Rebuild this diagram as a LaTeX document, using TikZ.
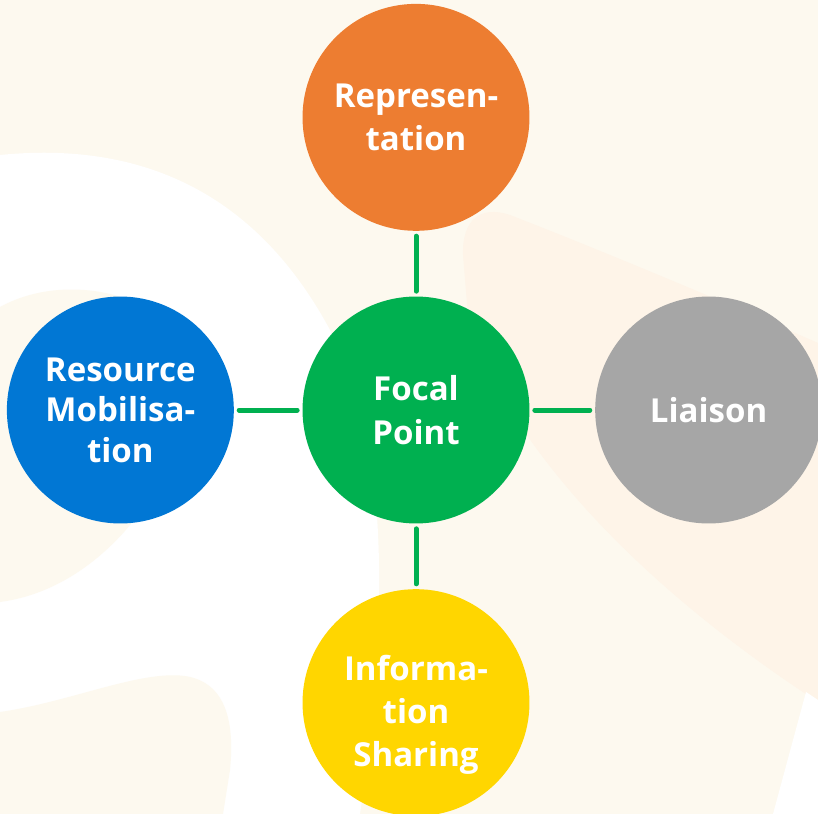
\documentclass[tikz,border=0pt]{standalone}
\usepackage{fontspec}
\setmainfont{Open Sans}
\usetikzlibrary{positioning}

\definecolor{bgcream}{RGB}{253,249,239}
\definecolor{bgpeach}{RGB}{254,244,232}
\definecolor{hubgreen}{RGB}{0,176,80}
\definecolor{reporange}{RGB}{237,125,49}
\definecolor{resblue}{RGB}{1,119,212}
\definecolor{liagray}{RGB}{166,166,166}
\definecolor{infoyellow}{RGB}{255,214,0}

\begin{document}
\begin{tikzpicture}[x=0.02cm,y=-0.02cm,
    bubble/.style={circle,minimum size=4.54cm,inner sep=0pt,text=white,align=center,
      font=\fontsize{18.8}{25}\selectfont\bfseries},
    link/.style={draw=hubgreen,line width=0.1cm,line cap=round,shorten <=0.1cm,shorten >=0.1cm}]
    \useasboundingbox (0,0) rectangle (818,814);
    \clip (0,0) rectangle (818,814);
    % background
    \fill[bgcream] (0,0) rectangle (818,814);
    \fill[white] (0,155) .. controls (150,140) and (260,200) .. (330,330) .. controls (370,410) and (380,500) .. (379,590) .. controls (378,700) and (365,780) .. (360,814) -- (0,814) -- cycle;
    \fill[bgcream] (0,307) .. controls (40,285) and (90,285) .. (130,300) -- (170,460) .. controls (150,510) and (90,590) .. (0,602) -- cycle;
    \fill[bgcream] (0,712) .. controls (70,702) and (140,670) .. (185,676) .. controls (225,682) and (235,720) .. (230,770) -- (223,814) -- (0,814) -- cycle;
    \fill[bgpeach] (463,255) .. controls (462,220) and (480,205) .. (510,215) .. controls (600,250) and (720,300) .. (818,343) -- (818,702) .. controls (700,625) and (590,530) .. (520,425) -- (470,340) -- cycle;
    \fill[white] (773,814) -- (806,692) -- (818,700) -- (818,814) -- cycle;
    % circles
    \node[bubble,fill=hubgreen] (focal) at (416,410) {Focal\\Point};
    \node[bubble,fill=reporange,above=1.3cm of focal] (rep) {Represen-\\tation};
    \node[bubble,fill=resblue,left=1.36cm of focal,
      font=\fontsize{18.8}{23}\selectfont\bfseries] (res) {Resource\\Mobilisa-\\tion};
    \node[bubble,fill=liagray,right=1.3cm of focal] (lia) {Liaison};
    \node[bubble,fill=infoyellow,below=1.3cm of focal] (info) {};
    \node[text=white,align=center,font=\fontsize{18.8}{24.5}\selectfont\bfseries,
      yshift=-0.24cm] (infotext) at (info) {Informa-\\tion\\Sharing};
    % links
    \draw[link] (rep) -- (focal);
    \draw[link] (res) -- (focal);
    \draw[link] (lia) -- (focal);
    \draw[link] (info) -- (focal);
\end{tikzpicture}
\end{document}
